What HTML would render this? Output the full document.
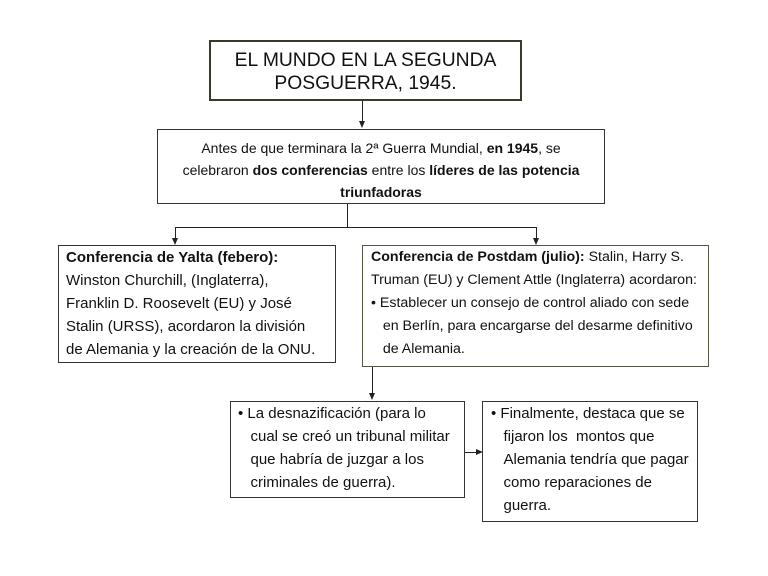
<!DOCTYPE html>
<html><head><meta charset="utf-8"><style>
body{margin:0;width:768px;height:576px;background:#fff;position:relative;font-family:"Liberation Sans",sans-serif;color:#111;overflow:hidden}
.b{position:absolute;border:1.5px solid #333;box-sizing:border-box;background:#fff;white-space:nowrap}
.t{font-size:15px;line-height:23px}
.l{position:absolute;background:#222}
.ad{position:absolute;width:0;height:0;border-left:3.5px solid transparent;border-right:3.5px solid transparent;border-top:7px solid #222}
.ar{position:absolute;width:0;height:0;border-top:3.5px solid transparent;border-bottom:3.5px solid transparent;border-left:7px solid #222}
</style></head><body>
<div class="b" style="left:209px;top:40px;width:313px;height:61px;border:2px solid #3a3a2a;text-align:center;font-size:19.3px;line-height:23px;padding-top:7px">EL MUNDO EN LA SEGUNDA<br>POSGUERRA, 1945.</div>
<div class="l" style="left:362px;top:101px;width:1px;height:21px"></div><div class="ad" style="left:359px;top:121px"></div>
<div class="b t" style="left:157px;top:129px;width:448px;height:75px;text-align:center;padding-top:7px;line-height:22px;font-size:14px">Antes de que terminara la 2ª Guerra Mundial, <b>en 1945</b>, se<br>celebraron <b>dos conferencias</b> entre los <b>líderes de las potencia</b><br><b>triunfadoras</b></div>
<div class="l" style="left:347px;top:204px;width:1px;height:23px"></div>
<div class="l" style="left:175px;top:227px;width:362px;height:1px"></div>
<div class="l" style="left:175px;top:227px;width:1px;height:12px"></div><div class="ad" style="left:172px;top:238px"></div>
<div class="l" style="left:536px;top:227px;width:1px;height:12px"></div><div class="ad" style="left:533px;top:238px"></div>
<div class="b t" style="left:58px;top:245px;width:278px;height:118px;padding:0 0 0 7px">
<b>Conferencia de Yalta (febero):</b><br>Winston Churchill, (Inglaterra),<br>Franklin D. Roosevelt (EU) y José<br>Stalin (URSS), acordaron la división<br>de Alemania y la creación de la ONU.</div>
<div class="b t" style="left:362px;top:245px;width:347px;height:122px;padding:0 0 0 8px;border-color:#555544;font-size:14.2px">
<b>Conferencia de Postdam (julio):</b> Stalin, Harry S.<br>Truman (EU) y Clement Attle (Inglaterra) acordaron:<br>• Establecer un consejo de control aliado con sede<br>&nbsp;&nbsp;&nbsp;en Berlín, para encargarse del desarme definitivo<br>&nbsp;&nbsp;&nbsp;de Alemania.</div>
<div class="l" style="left:372px;top:367px;width:1px;height:27px"></div><div class="ad" style="left:369px;top:393px"></div>
<div class="b t" style="left:230px;top:401px;width:235px;height:97px;padding:0 0 0 7px">• La desnazificación (para lo<br>&nbsp;&nbsp;&nbsp;cual se creó un tribunal militar<br>&nbsp;&nbsp;&nbsp;que habría de juzgar a los<br>&nbsp;&nbsp;&nbsp;criminales de guerra).</div>
<div class="l" style="left:465px;top:452px;width:12px;height:1px"></div><div class="ar" style="left:476px;top:449px"></div>
<div class="b t" style="left:482px;top:401px;width:216px;height:121px;padding:0 0 0 8px">• Finalmente, destaca que se<br>&nbsp;&nbsp;&nbsp;fijaron los&nbsp; montos que<br>&nbsp;&nbsp;&nbsp;Alemania tendría que pagar<br>&nbsp;&nbsp;&nbsp;como reparaciones de<br>&nbsp;&nbsp;&nbsp;guerra.</div>
</body></html>
